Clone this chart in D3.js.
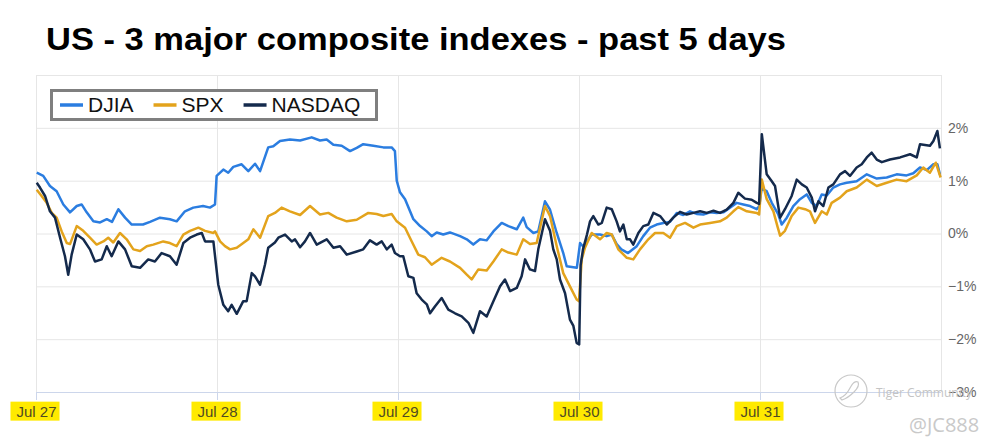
<!DOCTYPE html>
<html>
<head>
<meta charset="utf-8">
<script src="https://cdn.jsdelivr.net/npm/d3@7"></script>
<style>
  body { margin: 0; background: #fff; }
  svg { display: block; }
</style>
</head>
<body>
<div id="chart"></div>
<script>
// day index (0 = Jul 27 open, 5 = Jul 31 close) and % change
const days = ["Jul 27", "Jul 28", "Jul 29", "Jul 30", "Jul 31"];
const yTicks = [-3, -2, -1, 0, 1, 2, 3];
const seriesNames = ["DJIA", "SPX", "NASDAQ"];

const djia = [
  [0.004, 1.15], [0.040, 1.09], [0.077, 0.90], [0.114, 0.80], [0.151, 0.55], [0.188, 0.40],
  [0.225, 0.52], [0.252, 0.55], [0.280, 0.40], [0.317, 0.23], [0.354, 0.21], [0.391, 0.27],
  [0.420, 0.22], [0.455, 0.46], [0.492, 0.30], [0.529, 0.17], [0.591, 0.17], [0.630, 0.22],
  [0.685, 0.30], [0.740, 0.27], [0.777, 0.23], [0.823, 0.42], [0.869, 0.49], [0.923, 0.52],
  [0.961, 0.49], [0.989, 0.55],
  [0.998, 1.09], [1.035, 1.21], [1.062, 1.15], [1.090, 1.26], [1.136, 1.31], [1.173, 1.18],
  [1.210, 1.32], [1.238, 1.18], [1.283, 1.63], [1.311, 1.65], [1.348, 1.75], [1.403, 1.78],
  [1.459, 1.76], [1.523, 1.82], [1.569, 1.76], [1.606, 1.78], [1.643, 1.68], [1.689, 1.66],
  [1.735, 1.56], [1.772, 1.62], [1.808, 1.69], [1.864, 1.66], [1.919, 1.63], [1.965, 1.63],
  [1.983, 1.56],
  [1.993, 1.00], [2.011, 0.78], [2.039, 0.65], [2.085, 0.27], [2.122, 0.14], [2.159, 0.04],
  [2.186, -0.05], [2.214, 0.02], [2.250, -0.02], [2.287, 0.02], [2.343, -0.05], [2.380, -0.11],
  [2.416, -0.21], [2.453, -0.11], [2.490, -0.13], [2.527, 0.04], [2.573, 0.20], [2.610, 0.14],
  [2.656, 0.08], [2.692, 0.30], [2.711, 0.12], [2.748, 0.01], [2.775, 0.04], [2.812, 0.61],
  [2.840, 0.45], [2.877, 0.01], [2.913, -0.37], [2.932, -0.62], [2.988, -0.65],
  [3.006, -0.18], [3.024, -0.25], [3.070, -0.02], [3.116, -0.02], [3.153, -0.05], [3.181, -0.02],
  [3.208, -0.20], [3.234, -0.30], [3.271, -0.37], [3.319, -0.24], [3.355, -0.05], [3.392, 0.11],
  [3.429, 0.17], [3.466, 0.20], [3.503, 0.22], [3.540, 0.39], [3.576, 0.35], [3.613, 0.42],
  [3.650, 0.37], [3.687, 0.36], [3.724, 0.40], [3.761, 0.39], [3.797, 0.40], [3.834, 0.49],
  [3.871, 0.58], [3.908, 0.55], [3.945, 0.52], [3.982, 0.46], [3.996, 0.52],
  [4.009, 0.85], [4.037, 0.80], [4.065, 0.58], [4.101, 0.36], [4.120, 0.17], [4.148, 0.30],
  [4.184, 0.52], [4.221, 0.65], [4.258, 0.74], [4.286, 0.58], [4.313, 0.52], [4.341, 0.74],
  [4.369, 0.72], [4.405, 0.87], [4.442, 0.93], [4.479, 0.96], [4.534, 0.99], [4.590, 1.12],
  [4.645, 1.04], [4.700, 1.06], [4.755, 1.12], [4.810, 1.10], [4.847, 1.14], [4.884, 1.25],
  [4.921, 1.20], [4.958, 1.31], [4.980, 1.31], [4.994, 1.12]
];

const spx = [
  [0.004, 0.83], [0.031, 0.71], [0.059, 0.58], [0.087, 0.39], [0.114, 0.30], [0.142, 0.04],
  [0.170, -0.18], [0.188, -0.20], [0.225, 0.14], [0.261, 0.05], [0.298, -0.08], [0.335, -0.21],
  [0.372, -0.15], [0.399, -0.08], [0.427, -0.17], [0.464, 0.01], [0.501, -0.11], [0.538, -0.30],
  [0.575, -0.33], [0.612, -0.24], [0.648, -0.21], [0.703, -0.15], [0.740, -0.18], [0.777, -0.24],
  [0.814, -0.02], [0.851, 0.05], [0.897, 0.11], [0.934, 0.05], [0.980, 0.01],
  [0.989, 0.04], [1.017, -0.15], [1.044, -0.24], [1.072, -0.30], [1.109, -0.27], [1.145, -0.18],
  [1.173, -0.11], [1.201, 0.08], [1.238, -0.08], [1.283, 0.33], [1.320, 0.39], [1.357, 0.49],
  [1.403, 0.42], [1.459, 0.35], [1.514, 0.52], [1.569, 0.36], [1.615, 0.39], [1.661, 0.30],
  [1.717, 0.23], [1.772, 0.26], [1.836, 0.39], [1.882, 0.37], [1.919, 0.33], [1.965, 0.37],
  [1.993, 0.23],
  [2.039, 0.11], [2.076, -0.15], [2.112, -0.40], [2.149, -0.45], [2.186, -0.59], [2.241, -0.46],
  [2.287, -0.53], [2.343, -0.65], [2.380, -0.78], [2.407, -0.87], [2.444, -0.68], [2.490, -0.70],
  [2.527, -0.53], [2.573, -0.30], [2.610, -0.36], [2.656, -0.40], [2.692, -0.11], [2.729, -0.20],
  [2.766, -0.18], [2.812, 0.52], [2.840, 0.33], [2.877, -0.24], [2.913, -0.75], [2.950, -1.00],
  [2.987, -1.25], [3.000, -1.28],
  [3.015, -0.49], [3.033, -0.27], [3.070, 0.01], [3.116, -0.11], [3.153, 0.01], [3.181, -0.02],
  [3.217, -0.30], [3.264, -0.46], [3.300, -0.49], [3.337, -0.30], [3.383, -0.11], [3.420, 0.01],
  [3.466, 0.01], [3.503, -0.08], [3.540, 0.14], [3.586, 0.20], [3.632, 0.11], [3.669, 0.17],
  [3.724, 0.20], [3.779, 0.23], [3.816, 0.30], [3.853, 0.42], [3.880, 0.50], [3.927, 0.42],
  [3.982, 0.39], [3.995, 0.36],
  [4.010, 1.02], [4.037, 0.65], [4.074, 0.42], [4.096, 0.14], [4.111, -0.04], [4.138, 0.05],
  [4.175, 0.33], [4.212, 0.49], [4.249, 0.46], [4.276, 0.42], [4.304, 0.20], [4.341, 0.42],
  [4.369, 0.36], [4.396, 0.58], [4.442, 0.68], [4.479, 0.80], [4.534, 0.87], [4.590, 1.02],
  [4.645, 0.90], [4.700, 0.96], [4.755, 1.02], [4.810, 0.99], [4.866, 1.10], [4.902, 1.25],
  [4.939, 1.15], [4.971, 1.34], [4.998, 1.06]
];

const nasdaq = [
  [0.004, 0.96], [0.022, 0.87], [0.050, 0.71], [0.077, 0.42], [0.105, 0.30], [0.133, -0.08],
  [0.160, -0.43], [0.178, -0.78], [0.197, -0.40], [0.225, -0.02], [0.261, -0.11], [0.298, -0.30],
  [0.326, -0.53], [0.363, -0.49], [0.391, -0.24], [0.418, -0.43], [0.455, -0.15], [0.492, -0.30],
  [0.529, -0.62], [0.575, -0.65], [0.620, -0.49], [0.657, -0.53], [0.694, -0.37], [0.740, -0.43],
  [0.777, -0.59], [0.814, -0.18], [0.851, -0.08], [0.888, -0.02], [0.916, 0.01], [0.934, -0.15],
  [0.980, -0.15],
  [1.007, -0.97], [1.035, -1.35], [1.062, -1.47], [1.081, -1.35], [1.109, -1.52], [1.145, -1.28],
  [1.164, -1.28], [1.192, -0.75], [1.210, -0.81], [1.238, -0.97], [1.265, -0.59], [1.283, -0.27],
  [1.320, -0.17], [1.339, -0.08], [1.376, -0.02], [1.413, -0.15], [1.431, -0.11], [1.459, -0.26],
  [1.486, -0.15], [1.514, 0.01], [1.551, -0.21], [1.606, -0.11], [1.643, -0.27], [1.680, -0.24],
  [1.717, -0.40], [1.772, -0.34], [1.808, -0.30], [1.845, -0.13], [1.882, -0.21], [1.910, -0.15],
  [1.938, -0.30], [1.965, -0.21], [1.983, -0.37],
  [2.011, -0.43], [2.029, -0.43], [2.057, -0.81], [2.085, -0.84], [2.103, -1.13], [2.131, -1.25],
  [2.159, -1.34], [2.177, -1.51], [2.204, -1.38], [2.241, -1.22], [2.278, -1.44], [2.315, -1.51],
  [2.352, -1.57], [2.389, -1.69], [2.416, -1.88], [2.453, -1.47], [2.490, -1.57], [2.527, -1.28],
  [2.564, -1.00], [2.591, -0.87], [2.619, -1.09], [2.656, -1.03], [2.683, -0.81], [2.702, -0.49],
  [2.729, -0.68], [2.757, -0.71], [2.775, -0.30], [2.812, 0.27], [2.840, 0.05], [2.858, -0.30],
  [2.877, -0.49], [2.895, -0.87], [2.923, -1.13], [2.950, -1.63], [2.969, -1.75], [2.987, -2.07],
  [3.001, -2.10],
  [3.009, -0.60], [3.022, -0.30], [3.044, -0.02], [3.061, 0.23], [3.079, 0.33], [3.107, 0.17],
  [3.126, 0.20], [3.153, 0.49], [3.181, 0.46], [3.208, 0.23], [3.226, 0.04], [3.245, 0.17],
  [3.264, -0.11], [3.282, -0.11], [3.300, -0.21], [3.328, 0.01], [3.355, 0.14], [3.383, 0.17],
  [3.411, 0.39], [3.448, 0.33], [3.485, 0.17], [3.521, 0.30], [3.558, 0.41], [3.595, 0.36],
  [3.632, 0.39], [3.669, 0.42], [3.706, 0.39], [3.743, 0.43], [3.779, 0.39], [3.816, 0.45],
  [3.853, 0.58], [3.880, 0.77], [3.917, 0.66], [3.954, 0.64], [3.982, 0.58], [3.995, 0.56],
  [4.010, 1.88], [4.037, 1.12], [4.065, 0.99], [4.083, 0.90], [4.111, 0.30], [4.138, 0.46],
  [4.175, 0.71], [4.203, 1.02], [4.231, 0.93], [4.258, 0.87], [4.286, 0.68], [4.304, 0.42],
  [4.323, 0.61], [4.350, 0.52], [4.378, 0.87], [4.405, 0.93], [4.442, 1.12], [4.470, 1.18],
  [4.497, 1.09], [4.534, 1.25], [4.562, 1.31], [4.590, 1.44], [4.617, 1.53], [4.645, 1.40],
  [4.673, 1.35], [4.718, 1.40], [4.774, 1.44], [4.829, 1.50], [4.866, 1.44], [4.884, 1.69],
  [4.939, 1.66], [4.958, 1.75], [4.980, 1.94], [4.994, 1.61]
];

const colors = ["#2b7de0", "#e3a31c", "#142a4c"];

const svgWidth = 995;
const svgHeight = 448;
const margin = { top: 75, right: 54, bottom: 56, left: 36 };
const width = svgWidth - margin.left - margin.right;
const height = svgHeight - margin.top - margin.bottom;

const svg = d3
  .select("#chart")
  .append("svg")
  .attr("width", svgWidth)
  .attr("height", svgHeight)
  .style("font-family", "'Open Sans', sans-serif");

svg
  .append("text")
  .attr("x", 46)
  .attr("y", 50)
  .attr("textLength", 740)
  .attr("lengthAdjust", "spacingAndGlyphs")
  .style("font-family", "'Liberation Sans', Arial, sans-serif")
  .style("font-weight", "bold")
  .style("font-size", "31px")
  .attr("fill", "#000")
  .text("US - 3 major composite indexes - past 5 days");

const g = svg.append("g").attr("transform", `translate(${margin.left},${margin.top})`);

const x = d3.scaleLinear().domain([0, 5]).range([0, width]);
const y = d3.scaleLinear().domain([-3, 3]).range([height, 0]);

// horizontal grid
g.append("g")
  .attr("class", "y-grid")
  .call(d3.axisLeft(y).tickValues(yTicks).tickSize(-width).tickFormat(""))
  .call((a) => a.select(".domain").remove())
  .call((a) => a.selectAll("line").attr("stroke", "#e6e6e6"));

// vertical grid
g.append("g")
  .attr("class", "x-grid")
  .call(d3.axisTop(x).tickValues([0, 1, 2, 3, 4, 5]).tickSize(-height).tickFormat(""))
  .call((a) => a.select(".domain").remove())
  .call((a) => a.selectAll("line").attr("stroke", "#e6e6e6"));

// right axis labels
const fmt = (v) => (v < 0 ? "\u2212" + Math.abs(v) : v) + "%";
const yAxis = g
  .append("g")
  .attr("class", "y-axis")
  .attr("transform", `translate(${width},0)`)
  .call(d3.axisRight(y).tickValues(yTicks.filter((v) => v < 3)).tickSize(0).tickPadding(7).tickFormat(fmt));
yAxis.select(".domain").remove();
yAxis.selectAll("text").attr("fill", "#666").style("font-size", "14px");

// bottom axis
const xAxis = g
  .append("g")
  .attr("class", "x-axis")
  .attr("transform", `translate(0,${height})`)
  .call(d3.axisBottom(x).tickValues([0, 1, 2, 3, 4]).tickSize(8).tickPadding(6).tickFormat((i) => days[i]));
xAxis.select(".domain").attr("stroke", "#ccd6eb").attr("d", `M0,0.5H${width}`);
xAxis.selectAll("line").attr("stroke", "#ccd6eb");
xAxis.selectAll("text").attr("fill", "#4f4b22").style("font-size", "15px");

// highlighter marks behind the date labels
xAxis.selectAll(".tick").each(function () {
  const t = d3.select(this);
  const b = t.select("text").node().getBBox();
  t.insert("rect", "text")
    .attr("x", b.x - 6)
    .attr("y", b.y - 1)
    .attr("width", b.width + 9)
    .attr("height", b.height + 2)
    .attr("fill", "#ffea00");
});

// lines
const line = d3
  .line()
  .x((d) => x(d[0]))
  .y((d) => y(d[1]));

[djia, spx, nasdaq].forEach((s, i) => {
  g.append("path")
    .datum(s)
    .attr("fill", "none")
    .attr("stroke", colors[i])
    .attr("stroke-width", 2.5)
    .attr("stroke-linejoin", "round")
    .attr("d", line);
});

// legend
const legend = svg.append("g").attr("class", "legend");
legend
  .append("rect")
  .attr("x", 51.5)
  .attr("y", 90.5)
  .attr("width", 325)
  .attr("height", 29)
  .attr("fill", "#fff")
  .attr("stroke", "#7f7f7f")
  .attr("stroke-width", 3);

let lx = 60;
seriesNames.forEach((name, i) => {
  legend
    .append("line")
    .attr("x1", lx)
    .attr("x2", lx + 23)
    .attr("y1", 105)
    .attr("y2", 105)
    .attr("stroke", colors[i])
    .attr("stroke-width", 3.5);
  const t = legend
    .append("text")
    .attr("x", lx + 28)
    .attr("y", 112)
    .style("font-family", "'Liberation Sans', Arial, sans-serif")
    .style("font-size", "21px")
    .attr("fill", "#111")
    .text(name);
  lx += 28 + t.node().getComputedTextLength() + 20;
});

// watermark
const wm = svg.append("g").attr("class", "watermark");
wm.append("circle")
  .attr("cx", 851)
  .attr("cy", 391)
  .attr("r", 16)
  .attr("fill", "none")
  .attr("stroke", "#c8c8c8")
  .attr("stroke-width", 1.2);
wm.append("path")
  .attr("d", "M840,398 q6,-2 10,-10 q4,-8 8,-6 q2,4 -4,10 q-6,6 -12,8 z")
  .attr("fill", "none")
  .attr("stroke", "#c8c8c8")
  .attr("stroke-width", 1.2);
wm.append("text")
  .attr("x", 876)
  .attr("y", 397)
  .style("font-size", "12px")
  .attr("fill", "#c4c4c4")
  .text("Tiger Community");
wm.append("text")
  .attr("x", 909)
  .attr("y", 432)
  .style("font-size", "20px")
  .attr("fill", "#c9c9c9")
  .text("@JC888");
</script>
</body>
</html>
